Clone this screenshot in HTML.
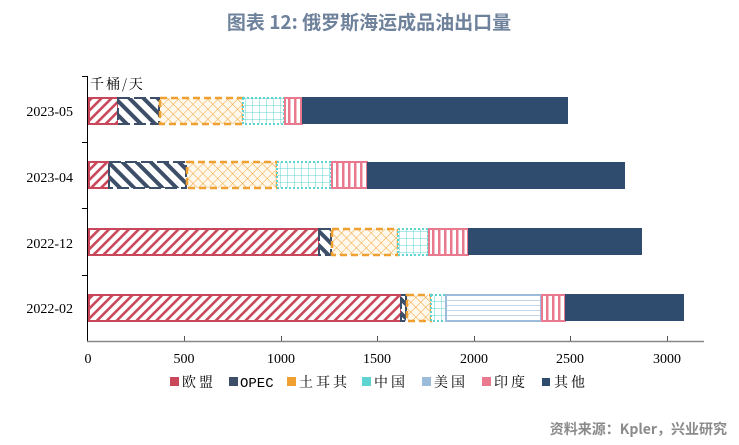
<!DOCTYPE html>
<html><head><meta charset="utf-8"><style>
html,body{margin:0;padding:0;background:#fff;}
svg{display:block;}
</style></head><body>
<svg width="739" height="445" xmlns="http://www.w3.org/2000/svg">
<defs>
<pattern id="pRed" width="7" height="7" patternUnits="userSpaceOnUse" patternTransform="rotate(45)">
<rect width="7" height="7" fill="#fff"/><rect width="2.6" height="7" fill="#c9475a"/></pattern>
<pattern id="pNavy" width="10" height="10" patternUnits="userSpaceOnUse" patternTransform="rotate(-45)">
<rect width="10" height="10" fill="#fff"/><rect width="4" height="10" fill="#3c4e68"/></pattern>
<pattern id="pOr" width="7" height="7" patternUnits="userSpaceOnUse" patternTransform="rotate(45)">
<rect width="7" height="7" fill="#fff8ec"/><path d="M0 0H7M0 0V7" stroke="#f0a030" stroke-width="0.9"/></pattern>
<pattern id="pCy" width="7" height="7" patternUnits="userSpaceOnUse">
<rect width="7" height="7" fill="#fff"/><path d="M0 0H7M0 0V7" stroke="#5fd3d0" stroke-width="1"/></pattern>
<pattern id="pBl" width="5" height="5" patternUnits="userSpaceOnUse">
<rect width="5" height="5" fill="#fff"/><path d="M0 0H5" stroke="#9dbcdc" stroke-width="1.2"/></pattern>
<pattern id="pPk" width="6" height="28" patternUnits="userSpaceOnUse">
<rect width="6" height="28" fill="#fff"/><rect x="0" width="2.5" height="28" fill="#e8798f"/></pattern>
</defs>
<text x="369" y="29" text-anchor="middle" font-family="'Noto Sans CJK SC',sans-serif" font-weight="bold" font-size="19" fill="#6f829c">图表 12: 俄罗斯海运成品油出口量</text>

<line x1="87.5" y1="76" x2="87.5" y2="341" stroke="#000" stroke-width="1"/>
<line x1="82" y1="76.5" x2="88" y2="76.5" stroke="#000"/>
<line x1="82" y1="142.5" x2="88" y2="142.5" stroke="#000"/>
<line x1="82" y1="208.5" x2="88" y2="208.5" stroke="#000"/>
<line x1="82" y1="275.5" x2="88" y2="275.5" stroke="#000"/>
<line x1="87" y1="341.5" x2="704" y2="341.5" stroke="#888" stroke-width="1.5"/>
<g stroke="#555">
<line x1="184.5" y1="336" x2="184.5" y2="341"/><line x1="281.5" y1="336" x2="281.5" y2="341"/>
<line x1="377.5" y1="336" x2="377.5" y2="341"/><line x1="474.5" y1="336" x2="474.5" y2="341"/>
<line x1="570.5" y1="336" x2="570.5" y2="341"/><line x1="667.5" y1="336" x2="667.5" y2="341"/>
</g>
<g font-family="'Liberation Serif',serif" font-size="14" fill="#000" text-anchor="middle">
<text x="88" y="363">0</text><text x="184" y="363">500</text><text x="281" y="363">1000</text>
<text x="377" y="363">1500</text><text x="474" y="363">2000</text><text x="570" y="363">2500</text><text x="667" y="363">3000</text>
</g>
<g font-family="'Liberation Serif',serif" font-size="14" fill="#000" text-anchor="end">
<text x="73" y="116">2023-05</text><text x="73" y="182">2023-04</text>
<text x="73" y="248">2022-12</text><text x="73" y="313">2022-02</text>
</g>
<text x="90" y="89" font-family="'Noto Serif CJK SC',serif" font-size="14" letter-spacing="2" fill="#000">千桶/天</text>

<g>
<rect x="89" y="98" width="29" height="26" fill="url(#pRed)" stroke="#c9475a" stroke-width="2"/>
<rect x="118" y="98" width="41" height="26" fill="url(#pNavy)" stroke="#3c4e68" stroke-width="2" stroke-dasharray="12 4"/>
<rect x="160" y="98" width="83" height="26" fill="url(#pOr)" stroke="#f0a030" stroke-width="2.5" stroke-dasharray="7 4"/>
<rect x="243" y="98" width="41" height="26" fill="url(#pCy)" stroke="#5fd3d0" stroke-width="2" stroke-dasharray="2 2"/>
<rect x="285" y="98" width="17" height="26" fill="url(#pPk)" stroke="#e8798f" stroke-width="2"/>
<rect x="302" y="97" width="266" height="27" fill="#2f4b6e"/>

<rect x="89" y="162" width="20" height="26" fill="url(#pRed)" stroke="#c9475a" stroke-width="2"/>
<rect x="109" y="162" width="77" height="26" fill="url(#pNavy)" stroke="#3c4e68" stroke-width="2" stroke-dasharray="12 4"/>
<rect x="187" y="162" width="90" height="26" fill="url(#pOr)" stroke="#f0a030" stroke-width="2.5" stroke-dasharray="7 4"/>
<rect x="277" y="162" width="54" height="26" fill="url(#pCy)" stroke="#5fd3d0" stroke-width="2" stroke-dasharray="2 2"/>
<rect x="332" y="162" width="35" height="26" fill="url(#pPk)" stroke="#e8798f" stroke-width="2"/>
<rect x="367" y="162" width="258" height="27" fill="#2f4b6e"/>

<rect x="89" y="229" width="230" height="26" fill="url(#pRed)" stroke="#c9475a" stroke-width="2"/>
<rect x="319" y="229" width="12" height="26" fill="url(#pNavy)" stroke="#3c4e68" stroke-width="2" stroke-dasharray="12 4"/>
<rect x="332" y="229" width="66" height="26" fill="url(#pOr)" stroke="#f0a030" stroke-width="2.5" stroke-dasharray="7 4"/>
<rect x="398" y="229" width="30" height="26" fill="url(#pCy)" stroke="#5fd3d0" stroke-width="2" stroke-dasharray="2 2"/>
<rect x="429" y="229" width="39" height="26" fill="url(#pPk)" stroke="#e8798f" stroke-width="2"/>
<rect x="468" y="228" width="174" height="27" fill="#2f4b6e"/>

<rect x="89" y="295" width="312" height="26" fill="url(#pRed)" stroke="#c9475a" stroke-width="2"/>
<rect x="401" y="295" width="5" height="26" fill="url(#pNavy)" stroke="#3c4e68" stroke-width="2" stroke-dasharray="12 4"/>
<rect x="407" y="295" width="24" height="26" fill="url(#pOr)" stroke="#f0a030" stroke-width="2.5" stroke-dasharray="7 4"/>
<rect x="431" y="295" width="15" height="26" fill="url(#pCy)" stroke="#5fd3d0" stroke-width="2" stroke-dasharray="2 2"/>
<rect x="446" y="295" width="95" height="26" fill="url(#pBl)" stroke="#9dbcdc" stroke-width="2"/>
<rect x="542" y="295" width="23" height="26" fill="url(#pPk)" stroke="#e8798f" stroke-width="2"/>
<rect x="565" y="294" width="119" height="27" fill="#2f4b6e"/>
</g>

<g font-family="'Noto Serif CJK SC',serif" font-size="14" fill="#000" letter-spacing="3">
<rect x="170" y="377" width="9" height="9" fill="#c9475a"/><text x="182" y="387">欧盟</text>
<rect x="229" y="377" width="9" height="9" fill="#3c4e68"/><text x="240" y="387" letter-spacing="0" font-family="'Liberation Mono',monospace" font-size="14">OPEC</text>
<rect x="287" y="377" width="9" height="9" fill="#f0a030"/><text x="299" y="387">土耳其</text>
<rect x="362" y="377" width="9" height="9" fill="#5fd3d0"/><text x="374" y="387">中国</text>
<rect x="422" y="377" width="9" height="9" fill="#9dbcdc"/><text x="434" y="387">美国</text>
<rect x="482" y="377" width="9" height="9" fill="#e8798f"/><text x="494" y="387">印度</text>
<rect x="542" y="378" width="8" height="8" fill="#2f4b6e"/><text x="554" y="387">其他</text>
</g>
<text x="727" y="434" text-anchor="end" font-family="'Noto Sans CJK SC',sans-serif" font-size="14" font-weight="bold" fill="#8a8a8a">资料来源：Kpler，兴业研究</text>
</svg>
</body></html>
